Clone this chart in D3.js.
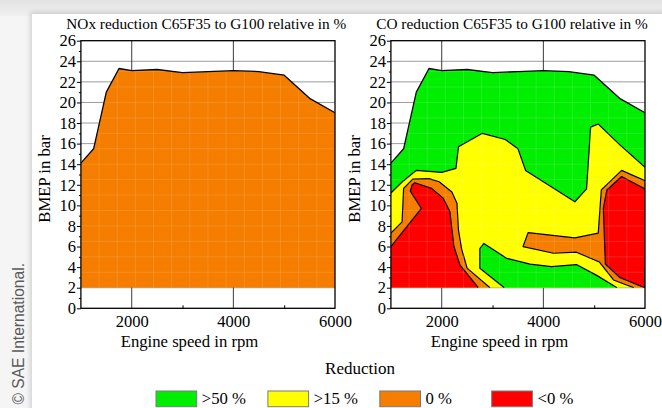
<!DOCTYPE html>
<html>
<head>
<meta charset="utf-8">
<script src="https://cdn.jsdelivr.net/npm/d3@7"></script>
<style>
  html, body { margin: 0; padding: 0; background: #f4f4f4; }
  svg { display: block; }
</style>
</head>
<body>
<svg id="fig" width="662" height="408"></svg>
<script>
// ---- axis ticks ----
const speedTicks = [2000, 4000, 6000];
const speedMinorTicks = [3000, 5000];
const bmepTicks = [0, 2, 4, 6, 8, 10, 12, 14, 16, 18, 20, 22, 24, 26];
const bmepMinorTicks = [1, 3, 5, 7, 9, 11, 13, 15, 17, 19, 21, 23, 25];

// ---- full-load line of the operating map (shared by both maps) ----
const envelopeSpeed = [1000, 1250, 1500, 1750, 2000, 2500, 3000, 3500, 4000, 4500, 5000, 5500, 6000];
const envelopeBmep  = [14.1, 15.5, 21.0, 23.3, 23.1, 23.2, 22.9, 23.0, 23.1, 23.0, 22.65, 20.4, 19.0];
const bmepFloor = 2;

// ---- CO reduction isolines, [speed rpm, BMEP bar] ----
// 50 % isoline (green / yellow)
const co50Upper = [[1000, 11.2], [1250, 12.4], [1500, 13.4], [2000, 13.2], [2280, 13.6], [2330, 15.7],
                   [2800, 17.0], [3250, 16.4], [3500, 15.5], [3650, 13.4], [4620, 10.35], [4850, 11.6],
                   [4930, 17.6], [5080, 17.9], [5500, 15.9], [6000, 13.7]];
const co50Lower = [[3230, 2.0], [2750, 3.9], [2750, 5.8], [2830, 6.3], [3280, 4.85], [3740, 4.3],
                   [4160, 4.05], [4650, 4.25], [5050, 3.2], [5450, 2.0]];
// 15 % isoline (yellow / orange)
const co15Left  = [[1000, 7.3], [1220, 8.4], [1250, 11.65], [1430, 12.55], [1750, 12.6], [1950, 12.3],
                   [2200, 11.3], [2300, 10.2], [2330, 7.6], [2390, 5.8], [2500, 3.9], [2950, 2.0]];
const co15Right = [[6000, 12.4], [5540, 13.4], [5140, 11.5], [5080, 7.3], [4620, 6.85], [3700, 7.35],
                   [3600, 6.0], [4200, 5.35], [4650, 5.45], [5100, 4.5], [5380, 2.75], [5780, 2.0]];
// 0 % isoline (orange / red)
const co0Left   = [[1000, 6.0], [1600, 9.7], [1380, 11.4], [1420, 12.0], [1470, 12.2], [1800, 11.65],
                   [2030, 10.7], [2160, 9.4], [2240, 6.0], [2360, 4.2], [2720, 2.0]];
const co0Right  = [[6000, 11.6], [5540, 12.8], [5250, 11.5], [5180, 9.7], [5220, 4.3], [5500, 3.0],
                   [5970, 2.05], [6000, 2.0]];
const co0Edge   = [[6000, 2.0], [6000, 4.0]];

// ---- legend ----
const legendLabels = [">50 %", ">15 %", "0 %", "<0 %"];
const legendColors = ["#00ee00", "#ffff00", "#f57d00", "#ff0000"];
const [GREEN, YELLOW, ORANGE, RED] = legendColors;

const SERIF = "'Liberation Serif', 'Times New Roman', serif";
const svg = d3.select("#fig");

// ---- page background ----
const defs = svg.append("defs");
const topGrad = defs.append("linearGradient").attr("id", "topGrad")
  .attr("x1", 0).attr("y1", 0).attr("x2", 0).attr("y2", 1);
topGrad.append("stop").attr("offset", 0).attr("stop-color", "#e3e3e3");
topGrad.append("stop").attr("offset", 1).attr("stop-color", "#f0f0f0");
const shadow = defs.append("filter").attr("id", "shadow")
  .attr("x", "-5%").attr("y", "-5%").attr("width", "110%").attr("height", "110%");
shadow.append("feGaussianBlur").attr("stdDeviation", 2.5);

svg.append("rect").attr("width", 662).attr("height", 408).attr("fill", "#f5f5f5");
svg.append("rect").attr("width", 662).attr("height", 16).attr("fill", "url(#topGrad)");
svg.append("rect").attr("x", 30).attr("y", 12).attr("width", 640).attr("height", 410)
  .attr("fill", "#000").attr("opacity", 0.14).attr("filter", "url(#shadow)");
svg.append("rect").attr("x", 32).attr("y", 14).attr("width", 630).attr("height", 394).attr("fill", "#fff");

svg.append("text")
  .attr("transform", "translate(23.5,263) rotate(-90)")
  .attr("text-anchor", "end")
  .attr("font-family", "'Liberation Sans', Arial, sans-serif")
  .attr("font-size", 15.6).attr("fill", "#5a5a5a")
  .text("\u00a9 SAE International.");

// ---- one map panel ----
function drawPanel(id, left, title, paintZones) {
  const x = d3.scaleLinear().domain([1000, 6000]).range([left, left + 254.1]);
  const y = d3.scaleLinear().domain([0, 26]).range([308.3, 40.7]);
  const line = d3.line().x(d => x(d[0])).y(d => y(d[1]));
  const g = svg.append("g");

  // grid
  g.append("g").selectAll("line").data(bmepTicks.filter(v => v > 0 && v < 26)).join("line")
    .attr("x1", x(1000)).attr("x2", x(6000))
    .attr("y1", d => y(d)).attr("y2", d => y(d))
    .attr("stroke", "#9c9c9c").attr("stroke-width", 1);
  g.append("g").selectAll("line").data(speedTicks.filter(v => v < 6000)).join("line")
    .attr("x1", d => x(d)).attr("x2", d => x(d))
    .attr("y1", y(0)).attr("y2", y(26))
    .attr("stroke", "#3c3c3c").attr("stroke-width", 1);

  // operating range
  const env = envelopeSpeed.map((s, i) => [s, envelopeBmep[i]]);
  const envPoly = [...env, [6000, bmepFloor], [1000, bmepFloor]];
  defs.append("clipPath").attr("id", id + "-clip")
    .append("path").attr("d", line(envPoly) + "Z");

  const zones = g.append("g").attr("clip-path", `url(#${id}-clip)`);
  paintZones(zones, line, envPoly);

  // interpolation mesh, faintly visible through the fills
  const mesh = zones.append("g").attr("stroke", "#fff").attr("stroke-opacity", 0.13).attr("stroke-width", 1);
  mesh.selectAll("line.v").data(d3.range(1, 14)).join("line").attr("class", "v")
    .attr("x1", k => x(1000 + k * 5000 / 14)).attr("x2", k => x(1000 + k * 5000 / 14))
    .attr("y1", y(bmepFloor)).attr("y2", y(26));
  mesh.selectAll("line.h").data(d3.range(1, 15)).join("line").attr("class", "h")
    .attr("x1", x(1000)).attr("x2", x(6000))
    .attr("y1", k => y(bmepFloor + 1.5 * k)).attr("y2", k => y(bmepFloor + 1.5 * k));

  // full-load line
  g.append("path").attr("d", line(env)).attr("fill", "none")
    .attr("stroke", "#000").attr("stroke-width", 1.3).attr("stroke-linejoin", "round");

  // frame
  g.append("rect").attr("x", x(1000)).attr("y", y(26))
    .attr("width", x(6000) - x(1000)).attr("height", y(0) - y(26))
    .attr("fill", "none").attr("stroke", "#000").attr("stroke-width", 1.3);

  // axes
  const styleAxis = s => {
    s.select(".domain").remove();
    s.selectAll(".tick line").attr("stroke", "#000").attr("stroke-width", 1);
    s.selectAll(".tick text").attr("font-family", SERIF).attr("font-size", 16.5).attr("fill", "#000");
  };
  g.append("g").attr("transform", `translate(${x(1000)},0)`)
    .call(d3.axisLeft(y).tickValues(bmepTicks).tickSize(4).tickPadding(1).tickFormat(d3.format("d")))
    .call(styleAxis);
  g.append("g").attr("transform", `translate(${x(1000)},0)`)
    .call(d3.axisLeft(y).tickValues(bmepMinorTicks).tickSize(2).tickFormat(""))
    .call(styleAxis);
  g.append("g").attr("transform", `translate(0,${y(0)})`)
    .call(d3.axisBottom(x).tickValues(speedTicks).tickSize(0).tickPadding(7).tickFormat(d3.format("d")))
    .call(styleAxis);
  g.append("g").attr("transform", `translate(0,${y(0)})`)
    .call(d3.axisBottom(x).tickValues(speedMinorTicks).tickSize(-3).tickFormat(""))
    .call(styleAxis);

  // labels
  g.append("text").attr("x", x(1000) - 14.6).attr("y", 29.3)
    .attr("font-family", SERIF).attr("font-size", 15.3).text(title);
  g.append("text").attr("x", x(1000) + 39.8).attr("y", 347)
    .attr("font-family", SERIF).attr("font-size", 16.7).text("Engine speed in rpm");
  g.append("text").attr("transform", `translate(${x(1000) - 30.5},179) rotate(-90)`)
    .attr("text-anchor", "middle")
    .attr("font-family", SERIF).attr("font-size", 16.7).text("BMEP in bar");
}

// NOx map: the whole operating range lies in the 0 % band
drawPanel("nox", 80.9, "NOx reduction C65F35 to G100 relative in %", (zones, line, envPoly) => {
  zones.append("path").attr("d", line(envPoly) + "Z").attr("fill", ORANGE);
});

// CO map: filled bands painted bottom-up, isolines stroked on top
drawPanel("co", 390.9, "CO reduction C65F35 to G100 relative in %", (zones, line, envPoly) => {
  const fill = (pts, color) => zones.append("path").attr("d", line(pts) + "Z").attr("fill", color);
  fill(envPoly, GREEN);
  fill([...co50Upper, [6000, bmepFloor], [1000, bmepFloor]], YELLOW);
  fill(co50Lower, GREEN);
  fill([...co15Left, [1000, bmepFloor]], ORANGE);
  fill([...co0Left, [1000, bmepFloor]], RED);
  fill([...co15Right, [6000, bmepFloor]], ORANGE);
  fill(co0Right, RED);

  const iso = zones.append("g").attr("fill", "none").attr("stroke", "#000")
    .attr("stroke-width", 1.2).attr("stroke-linejoin", "round");
  [co50Upper, co50Lower, co15Left, co15Right, co0Left, co0Right].forEach(pts =>
    iso.append("path").attr("d", line(pts)));
  zones.append("path").attr("d", line(co0Edge)).attr("stroke", "#000").attr("stroke-width", 2);
});

// ---- legend ----
svg.append("text").attr("x", 360).attr("y", 374.3).attr("text-anchor", "middle")
  .attr("font-family", SERIF).attr("font-size", 17).text("Reduction");
const legend = svg.append("g").selectAll("g").data(legendLabels).join("g")
  .attr("transform", (d, i) => `translate(${156 + i * 111.9},391)`);
legend.append("rect").attr("width", 40.7).attr("height", 15.7)
  .attr("fill", (d, i) => legendColors[i]).attr("stroke", "#7a7a7a").attr("stroke-width", 1);
legend.append("text").attr("x", 45.8).attr("y", 13.3)
  .attr("font-family", SERIF).attr("font-size", 16.7).text(d => d);
</script>
</body>
</html>
